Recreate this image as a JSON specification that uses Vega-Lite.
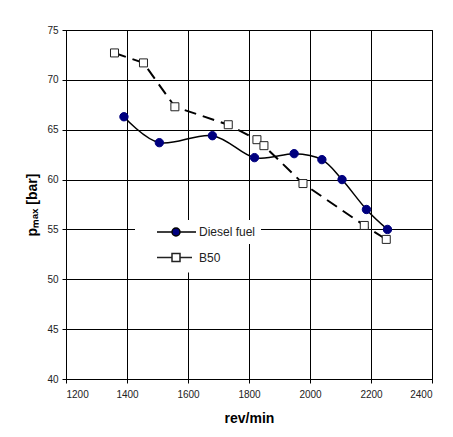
{
  "$schema": "https://vega.github.io/schema/vega-lite/v6.json",
  "autosize": "none",
  "width": 366,
  "height": 349,
  "padding": {"left": 66, "top": 30, "right": 21, "bottom": 58},
  "background": "white",
  "config": {
    "view": {"stroke": "black", "strokeWidth": 1},
    "font": "Liberation Sans",
    "axis": {
      "grid": true,
      "gridColor": "black",
      "gridOpacity": 1,
      "gridWidth": 1,
      "domainColor": "black",
      "tickColor": "black",
      "tickSize": 4,
      "labelFont": "Liberation Sans",
      "labelFontSize": 10,
      "labelColor": "#222222",
      "titleFont": "Liberation Sans",
      "titleFontSize": 14,
      "titleFontWeight": "bold",
      "titleColor": "black"
    },
    "legend": {
      "title": null,
      "orient": "none",
      "padding": 5,
      "fillColor": "white",
      "symbolSize": 1600,
      "symbolStrokeColor": "black",
      "symbolStrokeWidth": 1.5,
      "symbolOpacity": 1,
      "symbolOffset": 15,
      "labelOffset": 2,
      "labelFont": "Liberation Sans",
      "labelFontSize": 12,
      "labelColor": "#222222"
    }
  },
  "data": {
    "values": [
      {"series": "Diesel fuel", "rpm": 1390, "pmax": 66.3},
      {"series": "Diesel fuel", "rpm": 1506, "pmax": 63.7},
      {"series": "Diesel fuel", "rpm": 1680, "pmax": 64.4},
      {"series": "Diesel fuel", "rpm": 1818, "pmax": 62.2},
      {"series": "Diesel fuel", "rpm": 1948, "pmax": 62.6},
      {"series": "Diesel fuel", "rpm": 2039, "pmax": 62.0},
      {"series": "Diesel fuel", "rpm": 2105, "pmax": 60.0},
      {"series": "Diesel fuel", "rpm": 2185, "pmax": 57.0},
      {"series": "Diesel fuel", "rpm": 2254, "pmax": 55.0},
      {"series": "B50", "rpm": 1359, "pmax": 72.7},
      {"series": "B50", "rpm": 1454, "pmax": 71.7},
      {"series": "B50", "rpm": 1557, "pmax": 67.3},
      {"series": "B50", "rpm": 1732, "pmax": 65.5},
      {"series": "B50", "rpm": 1826, "pmax": 64.0},
      {"series": "B50", "rpm": 1849, "pmax": 63.4},
      {"series": "B50", "rpm": 1977, "pmax": 59.6},
      {"series": "B50", "rpm": 2178, "pmax": 55.4},
      {"series": "B50", "rpm": 2250, "pmax": 54.0}
    ]
  },
  "encoding": {
    "x": {
      "field": "rpm",
      "type": "quantitative",
      "scale": {"domain": [1200, 2400], "nice": false, "zero": false},
      "axis": {
        "title": "rev/min",
        "format": "d",
        "values": [1200, 1400, 1600, 1800, 2000, 2200, 2400],
        "labelPadding": 6,
        "titlePadding": 12
      }
    },
    "y": {
      "field": "pmax",
      "type": "quantitative",
      "scale": {"domain": [40, 75], "nice": false, "zero": false},
      "axis": {
        "title": "pₘₐₓ [bar]",
        "values": [40, 45, 50, 55, 60, 65, 70, 75],
        "labelPadding": 4,
        "titlePadding": 7
      }
    }
  },
  "layer": [
    {
      "transform": [{"filter": "datum.series === 'B50'"}],
      "mark": {"type": "line", "color": "black", "strokeWidth": 2, "strokeDash": [12, 7]}
    },
    {
      "transform": [{"filter": "datum.series === 'Diesel fuel'"}],
      "mark": {"type": "line", "color": "black", "strokeWidth": 1.5, "interpolate": "cardinal"}
    },
    {
      "transform": [{"filter": "datum.series === 'Diesel fuel'"}],
      "mark": {"type": "point", "shape": "circle", "filled": true, "opacity": 1, "size": 70, "stroke": "#00007f", "strokeWidth": 1},
      "encoding": {
        "fill": {
          "field": "series",
          "type": "nominal",
          "scale": {"domain": ["Diesel fuel"], "range": ["#00007f"]},
          "legend": {
            "legendX": 69,
            "legendY": 190,
            "clipHeight": 14,
            "symbolType": "M-0.95,0L-0.2,0M0.2,0L1,0M0.2,0C0.2,0.11,0.11,0.2,0,0.2C-0.11,0.2,-0.2,0.11,-0.2,0C-0.2,-0.11,-0.11,-0.2,0,-0.2C0.11,-0.2,0.2,-0.11,0.2,0Z"
          }
        }
      }
    },
    {
      "transform": [{"filter": "datum.series === 'B50'"}],
      "mark": {"type": "point", "shape": "square", "filled": false, "fill": "white", "opacity": 1, "size": 64, "strokeWidth": 1},
      "encoding": {
        "stroke": {
          "field": "series",
          "type": "nominal",
          "scale": {"domain": ["B50"], "range": ["#222222"]},
          "legend": {
            "legendX": 69,
            "legendY": 212.5,
            "clipHeight": 20,
            "symbolFillColor": "white",
            "symbolType": "M-0.95,0L-0.2,0M0.2,0L0.8,0M-0.2,-0.2L0.2,-0.2L0.2,0.2L-0.2,0.2Z"
          }
        }
      }
    }
  ]
}
